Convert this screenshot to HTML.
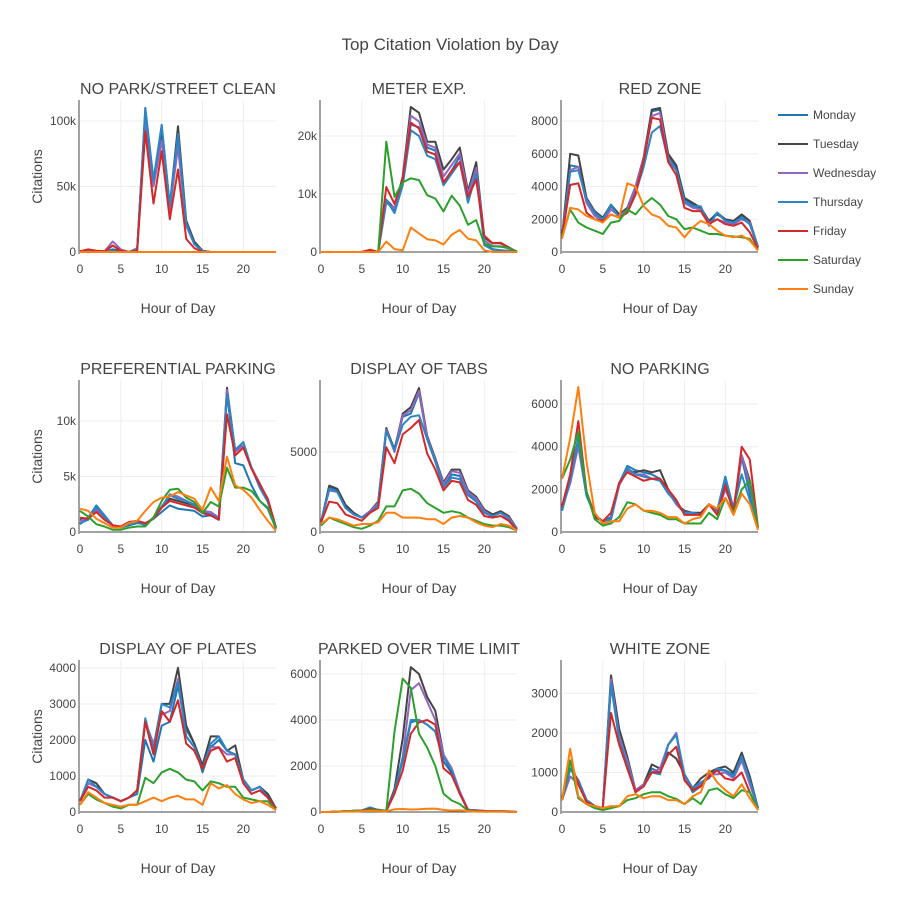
<!DOCTYPE html>
<html><head><meta charset="utf-8"><style>
html,body{margin:0;padding:0;background:#fff;}
svg{display:block;font-family:"Liberation Sans",sans-serif;}
</style></head><body>
<svg id="chart" width="900" height="900">
<rect width="900" height="900" fill="#fff"/>
<text x="450" y="50" text-anchor="middle" font-size="17" fill="#444">Top Citation Violation by Day</text>
</svg>
<script>
const days = ["Monday","Tuesday","Wednesday","Thursday","Friday","Saturday","Sunday"];
const colors = ["#1f77b4","#444444","#9467bd","#2a86c5","#d62728","#2ca02c","#ff7f0e"];
const hours = [0,1,2,3,4,5,6,7,8,9,10,11,12,13,14,15,16,17,18,19,20,21,22,23,24];
const titles = ["NO PARK/STREET CLEAN","METER EXP.","RED ZONE","PREFERENTIAL PARKING","DISPLAY OF TABS","NO PARKING","DISPLAY OF PLATES","PARKED OVER TIME LIMIT","WHITE ZONE"];
const yTicks = [[0,50000,100000],[0,10000,20000],[0,2000,4000,6000,8000],[0,5000,10000],[0,5000],[0,2000,4000,6000],[0,1000,2000,3000,4000],[0,2000,4000,6000],[0,1000,2000,3000]];
const yTickLabels = [["0","50k","100k"],["0","10k","20k"],["0","2000","4000","6000","8000"],["0","5k","10k"],["0","5000"],["0","2000","4000","6000"],["0","1000","2000","3000","4000"],["0","2000","4000","6000"],["0","1000","2000","3000"]];
const yRanges = [[-760,116000],[-170,26200],[-61,9290],[-90,13700],[-60,9500],[-47,7130],[-28,4220],[-43,6610],[-25,3840]];
const xTicks = [0,5,10,15,20];

const s1 = [
[500,1000,500,500,2000,1000,0,2000,110000,55000,97000,35000,88000,22000,6000,500,0,0,0,0,0,0,0,0,0],
[500,1000,500,500,1000,1000,0,2000,105000,52000,92000,35000,96000,24000,8000,1000,0,0,0,0,0,0,0,0,0],
[500,1000,500,500,8000,2000,0,3000,100000,50000,85000,32000,80000,20000,6000,500,0,0,0,0,0,0,0,0,0],
[500,1000,500,500,1000,0,0,2000,108000,54000,96000,36000,90000,22000,6000,500,0,0,0,0,0,0,0,0,0],
[500,2000,1000,500,5000,1000,0,1000,92000,37000,77000,25000,63000,10000,3000,0,0,0,0,0,0,0,0,0,0],
[0,0,0,0,0,0,0,0,0,0,0,0,0,0,0,0,0,0,0,0,0,0,0,0,0],
[0,0,0,0,0,0,0,0,0,0,0,0,0,0,0,0,0,0,0,0,0,0,0,0,0]];
const s2 = [
[0,0,0,0,0,0,300,0,9000,7000,12000,22000,21500,18000,17500,12000,14000,16500,9000,14000,1500,500,300,200,0],
[0,0,0,0,0,0,300,0,9000,7500,13000,25000,24000,19000,19000,14200,16000,18000,10500,15500,2500,1500,1500,800,0],
[0,0,0,0,0,0,300,0,8500,7500,12500,23500,22500,18500,18000,13000,15000,17000,10000,14500,2000,1000,1000,600,0],
[0,0,0,0,0,0,300,0,9000,6700,11500,21000,20000,16600,16000,11500,13500,15500,8500,13500,1200,400,300,200,0],
[0,0,0,0,0,0,400,0,11200,8300,12500,22300,21300,17300,16800,12000,14000,15500,9500,12500,2800,1500,1600,800,0],
[0,0,0,0,0,0,0,0,19000,9500,12000,12700,12400,9800,9200,7000,9700,8000,4700,5500,1400,1000,900,700,100],
[0,0,0,0,0,0,0,0,1800,500,300,4200,3200,2200,2000,1300,3000,3800,2300,2000,300,0,0,0,0]];
const s3 = [
[900,5300,5200,3100,2300,2000,2800,2200,2500,3800,5500,8600,8700,5800,5200,3200,2900,2600,1900,2400,2000,1800,2200,1700,300],
[900,6000,5900,3300,2500,2100,2900,2300,2700,4000,5800,8700,8800,6000,5300,3300,3000,2700,1900,2300,2000,1900,2300,1900,300],
[900,5000,5200,3000,2200,1900,2600,2200,2600,4000,5700,8300,8500,5700,5000,3000,2700,2600,1800,2000,1800,1700,2000,1800,300],
[900,4900,5000,3200,2400,2000,2900,2100,2400,3600,5200,7300,7700,5600,5000,3100,2800,2800,1600,2400,1900,1800,2100,1700,300],
[900,4100,4200,2400,2000,1900,2300,2100,2400,3500,5600,8200,8100,5500,4700,2700,2500,2500,1700,2000,1700,1600,1800,1200,200],
[900,2600,1800,1500,1300,1100,1800,1900,2600,2300,2900,3300,2900,2200,2000,1400,1500,1300,1100,1100,1000,950,900,800,100],
[800,2700,2600,2200,2000,1800,2300,2100,4200,4000,2800,2300,2100,1600,1500,900,1500,1900,1700,1300,1000,900,1000,700,100]];
const s4 = [
[700,1300,2400,1500,600,400,600,800,700,1200,1800,2400,2100,2000,1900,1400,1500,1100,12500,6200,6000,4200,2800,2100,300],
[1100,1200,2100,1300,600,400,700,1000,700,1300,2300,3000,2800,2600,2400,1900,1500,1200,13000,7300,7800,5800,4300,2800,400],
[1000,1300,2000,1300,600,400,800,1000,700,1300,2300,3400,3200,2800,2500,1900,1800,1300,12800,7200,7800,5800,4400,2900,400],
[800,1100,2300,1400,600,400,700,900,600,1300,2200,3300,3000,2800,2400,1800,1600,1200,12400,7400,8100,5800,4000,2700,400],
[1300,1200,1800,1100,600,500,900,1000,800,1200,2200,2800,2600,2400,2200,1700,1500,1100,10600,6900,7600,5700,4300,3000,400],
[1900,1400,700,500,200,200,400,500,500,1300,2800,3800,3900,3100,2700,1700,2700,2300,5800,4000,4000,3700,2800,2200,400],
[2100,1900,1200,800,400,400,800,1000,1900,2700,3100,3200,3600,3300,3000,2000,4000,2800,6800,4200,3800,3100,2000,1000,100]];
const s5 = [
[600,2800,2600,1600,1100,900,1300,1800,6400,5200,7200,7400,8700,5800,4400,2800,3600,3500,2400,2000,1200,1000,1200,900,200],
[600,2900,2700,1700,1200,900,1300,1900,6500,5100,7400,7800,9000,6000,4600,3100,3900,3900,2600,2200,1400,1100,1300,1000,200],
[600,2600,2500,1500,1100,900,1300,1800,6400,5000,7300,7600,8800,5900,4500,3000,3800,3700,2500,2100,1300,1000,1200,900,200],
[600,2700,2500,1500,1100,900,1200,1700,6300,5100,6700,7200,7300,5800,4400,2800,3400,3300,2300,1900,1200,1000,1200,800,200],
[600,1900,1800,1100,900,700,1200,1500,5300,4300,6100,6500,7000,4900,3900,2600,3200,3100,2000,1700,1000,900,1000,700,100],
[400,900,700,500,300,200,400,700,1600,1600,2600,2700,2400,1800,1500,1200,1300,1200,900,700,500,400,400,300,100],
[500,900,800,600,400,500,500,600,1200,1200,900,900,900,800,800,500,900,1000,900,600,400,300,500,400,100]];
const s6 = [
[1000,2500,4400,1800,800,500,700,2300,3100,2900,2800,2700,2500,1900,1300,900,900,800,1300,1000,2600,1100,3500,1800,200],
[1100,2300,4200,1800,700,500,600,2200,2900,2800,2900,2800,2900,2000,1300,1000,900,900,1300,1000,2300,1000,3600,2400,200],
[1100,2300,4000,1700,800,500,600,2200,2900,2700,2700,2500,2500,1900,1300,900,900,800,1300,900,2000,1100,3600,2200,200],
[1000,2400,4300,1700,800,500,600,2300,3000,2700,2600,2500,2400,1800,1400,900,900,800,1300,1000,2500,1100,2700,1500,200],
[1200,2700,5200,1900,800,500,900,2300,2800,2600,2400,2500,2500,2000,1500,800,800,800,1300,800,2200,900,4000,3400,200],
[2500,3400,4700,1900,600,300,400,700,1400,1300,1000,900,800,600,600,400,400,400,900,600,1600,900,2000,2400,200],
[2500,4400,6800,3300,900,400,500,500,1100,1300,1000,1000,900,700,700,400,600,700,1300,1100,1600,800,1800,1300,100]];
const s7 = [
[300,800,700,500,400,300,400,500,2000,1400,2400,2500,3500,2300,1900,1100,1800,2000,1700,1600,900,600,700,500,100],
[300,900,800,500,400,300,400,600,2500,1800,3000,3000,4000,2400,1900,1300,2100,2100,1700,1850,900,600,700,500,100],
[300,800,700,500,400,300,400,600,2500,1900,2700,2800,3700,2100,1800,1200,1800,1800,1600,1600,900,600,700,400,100],
[300,900,700,500,400,300,400,600,2600,1700,3000,2900,3600,2100,1800,1200,1900,2100,1700,1600,900,600,700,400,100],
[300,700,600,400,400,300,400,600,2500,1600,2800,2500,3100,1900,1700,1200,1700,1800,1400,1500,800,500,600,400,100],
[200,500,350,250,150,100,200,200,950,800,1100,1200,1100,900,850,600,850,800,700,700,400,350,300,300,50],
[200,550,400,250,200,150,200,200,300,400,300,400,450,350,350,200,800,650,750,500,350,250,300,200,50]];
const s8 = [
[0,0,20,30,50,60,200,80,50,900,2200,3900,4000,3800,3500,2200,1700,800,80,60,40,30,30,20,0],
[0,0,20,30,50,60,150,100,50,1000,3200,6300,6000,5000,4400,2500,1700,800,100,80,50,40,30,20,0],
[0,0,20,30,50,60,150,100,50,800,2400,5300,5600,4800,4000,2500,1900,900,100,80,50,40,30,20,0],
[0,0,20,30,50,60,200,80,50,900,2300,4000,4000,3800,3500,2400,1800,800,80,60,40,30,30,20,0],
[0,0,20,30,50,60,150,80,50,800,1800,3400,3900,4000,3800,1900,1600,800,60,50,40,30,30,30,0],
[0,0,20,30,50,50,100,80,50,3500,5800,5400,3400,2800,2000,800,500,350,50,30,20,20,20,10,0],
[0,0,10,20,20,30,50,40,30,120,130,110,120,140,150,90,60,80,30,20,20,20,20,10,0]];
const s9 = [
[300,1100,800,300,150,100,3200,1900,1200,500,700,1100,1000,1700,1950,900,500,650,950,1050,1050,950,1300,800,100],
[300,1100,800,300,150,100,3450,2100,1400,550,700,1200,1100,1500,1350,950,600,850,1000,1100,1150,1000,1500,900,100],
[300,900,700,300,150,100,3350,1900,1300,550,700,1000,1100,1700,2000,900,550,700,950,950,1000,850,1300,700,100],
[300,1100,800,300,150,100,3250,1800,1200,500,650,1000,950,1700,1950,950,600,750,850,1100,1050,900,1400,800,100],
[300,1300,700,250,150,100,2500,1700,1100,500,650,1000,1000,1450,1650,800,550,650,900,1050,850,800,1000,500,50],
[300,1300,350,200,100,50,100,150,300,350,450,500,500,400,330,200,350,200,550,600,450,350,550,500,50],
[300,1600,400,200,150,100,150,150,400,450,350,400,400,300,300,200,400,500,1050,750,550,400,700,350,50]];
const series = [s1,s2,s3,s4,s5,s6,s7,s8,s9];

const NS = "http://www.w3.org/2000/svg";
const svg = document.getElementById("chart");
function mk(tag, attrs, parent){
  const e = document.createElementNS(NS, tag);
  for (const k in attrs) e.setAttribute(k, attrs[k]);
  (parent||svg).appendChild(e);
  return e;
}
const colX = [80,321,562], rowY = [100,380,660], W = 196, H = 153;
const slug = t => t.toLowerCase().replace(/[^a-z0-9]+/g,'-').replace(/-+$/,'');

for (let p=0;p<9;p++){
  const L = colX[p%3], T = rowY[Math.floor(p/3)], B = T+H;
  const [y0,y1] = yRanges[p];
  const xs = h => L + h/24*W;
  const ys = v => B - (v-y0)/(y1-y0)*H;
  const g = mk("g",{});
  
  
  // grid
  xTicks.forEach(t=>{ if(t>0){ const l=mk("line",{x1:xs(t),x2:xs(t),y1:T,y2:B,stroke:"#eee","stroke-width":1},g);
      }});
  yTicks[p].forEach((t,i)=>{
    if(t>0){ const l=mk("line",{x1:L,x2:L+W,y1:ys(t),y2:ys(t),stroke:"#eee","stroke-width":1},g);
        }
    const tx=mk("text",{x:L-4,y:ys(t)+4,"text-anchor":"end","font-size":12,fill:"#444"},g);
    tx.textContent=yTickLabels[p][i];
     
  });
  xTicks.forEach(t=>{
    const tx=mk("text",{x:xs(t),y:B+20,"text-anchor":"middle","font-size":12,fill:"#444"},g);
    tx.textContent=t;
     
  });
  // axes
  const zl=mk("line",{x1:L,x2:L+W,y1:ys(0),y2:ys(0),stroke:"#444","stroke-width":1},g);
   
  const ya=mk("line",{x1:L-1,x2:L-1,y1:T,y2:B+1,stroke:"#444","stroke-width":1},g);
   
  // lines
  series[p].forEach((vals,d)=>{
    const pts = vals.map((v,i)=>xs(hours[i]).toFixed(1)+","+ys(v).toFixed(1)).join(" ");
    const pl=mk("polyline",{points:pts,fill:"none",stroke:colors[d],"stroke-width":2,"stroke-linejoin":"round"},g);
    
    
  });
  const tt=mk("text",{x:L+W/2,y:T-6,"text-anchor":"middle","font-size":16,fill:"#444"},g);
  tt.textContent=titles[p];
   
  const xt=mk("text",{x:L+W/2,y:B+60,"text-anchor":"middle","font-size":14,fill:"#444"},g);
  xt.textContent="Hour of Day";
   
  if(p%3===0){
    const cy=T+H/2;
    const yt=mk("text",{x:42,y:cy,"text-anchor":"middle","font-size":14,fill:"#444",transform:"rotate(-90 42 "+cy+")"},g);
    yt.textContent="Citations";
     
  }
}
// legend
const lg = mk("g",{});


days.forEach((d,i)=>{
  const y = 115 + i*29;
  const e = mk("g",{},lg);
  
  
  mk("line",{x1:778,x2:808,y1:y,y2:y,stroke:colors[i],"stroke-width":2},e);
  const t = mk("text",{x:813,y:y+4,"font-size":12,fill:"#444"},e);
  t.textContent = d;
});
</script>
</body></html>
